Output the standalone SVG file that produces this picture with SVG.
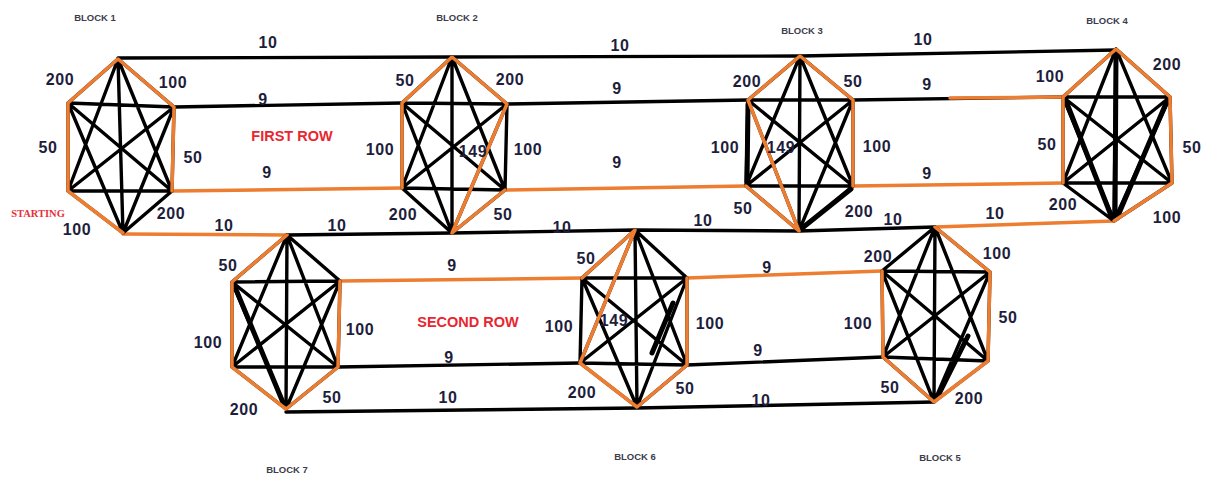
<svg xmlns="http://www.w3.org/2000/svg" width="1207" height="477" viewBox="0 0 1207 477">
  <style>
    .k{stroke:#000;stroke-width:3.4;fill:none;stroke-linecap:round;stroke-linejoin:round}
    .kt{stroke:#000;stroke-width:5;fill:none;stroke-linecap:round}
    .o{stroke:#ED7D31;stroke-width:3.5;fill:none;stroke-linecap:round;stroke-linejoin:round}
    .n{font-family:"Liberation Sans",Arial,sans-serif;font-weight:bold;font-size:16px;fill:#1e1e3c;text-anchor:middle;letter-spacing:0.6px}
    .t{font-family:"Liberation Sans",Arial,sans-serif;font-weight:bold;font-size:9.5px;fill:#3c3c4c;text-anchor:middle}
    .r{font-family:"Liberation Sans",Arial,sans-serif;font-weight:bold;font-size:14.5px;fill:#e8262f;text-anchor:middle}
    .s{font-family:"Liberation Serif","Times New Roman",serif;font-weight:bold;font-size:10.5px;fill:#e8303a;text-anchor:middle}
  </style>
  <rect width="1207" height="477" fill="#fff"/>

  <!-- links between blocks -->
  <g id="connectors">
    <path class="k" d="M118,58L452,57L800,56L1116,50"/>
    <path class="k" d="M174,107L402,103 M507,104L748,100 M853,100L1063,97"/>
    <path class="k" d="M287,235L452,233L635,230L799,231L935,227"/>
    <path class="k" d="M338,367L580,363 M687,365L883,357"/>
    <path class="k" d="M286,412L637,408L934,402"/>
    <path class="o" d="M172,191L402,188 M505,190L746,186 M853,186L1063,183"/>
    <path class="o" d="M950,98L1063,97"/>
    <path class="o" d="M123,234L287,235 M935,227L1114,221"/>
    <path class="o" d="M340,281L582,278 M687,278L882,271"/>
    <g class="n">
      <text x="268" y="48">10</text><text x="620" y="51">10</text><text x="923" y="45">10</text>
      <text x="263" y="105">9</text><text x="617" y="94">9</text><text x="927" y="90">9</text>
      <text x="267" y="178">9</text><text x="617" y="168">9</text><text x="927" y="179">9</text>
      <text x="224" y="231">10</text><text x="337" y="231">10</text><text x="562" y="233">10</text>
      <text x="703" y="226">10</text><text x="893" y="225">10</text><text x="995" y="219">10</text>
      <text x="452" y="271">9</text><text x="767" y="273">9</text>
      <text x="449" y="363">9</text><text x="758" y="356">9</text>
      <text x="448" y="403">10</text><text x="761" y="406">10</text>
    </g>
    <text class="r" x="292" y="141">FIRST ROW</text>
    <text class="r" x="468" y="327">SECOND ROW</text>
  </g>

  <!-- BLOCK 1 -->
  <g id="block1">
    <path class="k" d="M118,59L68,103 M118,59L174,107 M118,59L68,191 M118,59L172,191 M118,59L123,233 M68,103L174,107 M68,103L68,191 M68,103L172,191 M68,103L123,233 M174,107L68,191 M174,107L172,191 M174,107L123,233 M68,191L172,191 M68,191L123,233 M172,191L123,233"/>
    <path class="o" d="M68,191L68,103L118,59L174,107L172,191 M68,191L123,233"/>
    <g class="n">
      <text x="60" y="85">200</text><text x="173" y="88">100</text>
      <text x="48" y="153">50</text><text x="193" y="163">50</text>
      <text x="171" y="219">200</text><text x="77" y="235">100</text>
    </g>
    <text class="s" x="38" y="216.5">STARTING</text>
    <text class="t" x="95" y="20.5">BLOCK 1</text>
  </g>

  <!-- BLOCK 2 -->
  <g id="block2">
    <path class="k" d="M452,57L402,103 M452,57L507,104 M452,57L402,188 M452,57L505,190 M452,57L452,233 M402,103L507,104 M402,103L402,188 M402,103L505,190 M402,103L452,233 M507,104L402,188 M507,104L505,190 M507,104L452,233 M402,188L505,190 M402,188L452,233 M505,190L452,233"/>
    <path class="o" d="M402,188L402,103L452,57L507,104L452,233L505,190"/>
    <g class="n">
      <text x="405" y="86">50</text><text x="510" y="85">200</text>
      <text x="380" y="155">100</text><text x="473" y="157">149</text><text x="528" y="155">100</text>
      <text x="403" y="220">200</text><text x="503" y="220">50</text>
    </g>
    <text class="t" x="457" y="20.5">BLOCK 2</text>
  </g>

  <!-- BLOCK 3 -->
  <g id="block3">
    <path class="k" d="M800,56L748,100 M800,56L853,100 M800,56L746,186 M800,56L853,186 M800,56L799,231 M748,100L853,100 M748,100L746,186 M748,100L853,186 M748,100L799,231 M853,100L746,186 M853,100L853,186 M853,100L799,231 M746,186L853,186 M746,186L799,231 M853,186L799,231"/>
    <path class="kt" d="M748,104L747,182 M851,189L801,229"/>
    <path class="o" d="M853,186L853,100L800,56L748,100L799,231L746,186"/>
    <g class="n">
      <text x="747" y="87">200</text><text x="853" y="87">50</text>
      <text x="725" y="153">100</text><text x="781" y="153">149</text><text x="877" y="152">100</text>
      <text x="743" y="214">50</text><text x="859" y="217">200</text>
    </g>
    <text class="t" x="802" y="33.5">BLOCK 3</text>
  </g>

  <!-- BLOCK 4 -->
  <g id="block4">
    <path class="k" d="M1116,49L1063,97 M1116,49L1170,97 M1116,49L1063,183 M1116,49L1172,183 M1116,49L1114,221 M1063,97L1170,97 M1063,97L1063,183 M1063,97L1172,183 M1063,97L1114,221 M1170,97L1063,183 M1170,97L1172,183 M1170,97L1114,221 M1063,183L1172,183 M1063,183L1114,221 M1172,183L1114,221"/>
    <path class="kt" d="M1066,101L1112,218 M1167,101L1117,218 M1116,53L1115,217"/>
    <path class="o" d="M1063,183L1063,97L1116,49L1170,97L1172,183L1114,221"/>
    <g class="n">
      <text x="1050" y="82">100</text><text x="1167" y="70">200</text>
      <text x="1047" y="150">50</text><text x="1192" y="153">50</text>
      <text x="1063" y="210">200</text><text x="1167" y="223">100</text>
    </g>
    <text class="t" x="1107" y="23.5">BLOCK 4</text>
  </g>

  <!-- BLOCK 7 -->
  <g id="block7">
    <path class="k" d="M287,235L232,282 M287,235L340,281 M287,235L232,367 M287,235L338,367 M287,235L286,409 M232,282L340,281 M232,282L232,367 M232,282L338,367 M232,282L286,409 M340,281L232,367 M340,281L338,367 M340,281L286,409 M232,367L338,367 M232,367L286,409 M338,367L286,409"/>
    <path class="kt" d="M235,287L284,405"/>
    <path class="o" d="M287,235L232,282L232,367L286,409L338,367L340,281"/>
    <g class="n">
      <text x="228" y="271">50</text><text x="208" y="348">100</text><text x="360" y="335">100</text>
      <text x="244" y="415">200</text><text x="332" y="403">50</text>
    </g>
    <text class="t" x="287" y="472.5">BLOCK 7</text>
  </g>

  <!-- BLOCK 6 -->
  <g id="block6">
    <path class="k" d="M635,230L582,278 M635,230L687,278 M635,230L580,363 M635,230L687,365 M635,230L637,407 M582,278L687,278 M582,278L580,363 M582,278L687,365 M582,278L637,407 M687,278L580,363 M687,278L687,365 M687,278L637,407 M580,363L687,365 M580,363L637,407 M687,365L637,407"/>
    <path class="kt" d="M673,303L652,353"/>
    <path class="o" d="M582,278L635,230L580,363L637,407L687,365L687,278"/>
    <g class="n">
      <text x="586" y="264">50</text><text x="559" y="332">100</text><text x="614" y="326">149</text>
      <text x="710" y="329">100</text><text x="582" y="398">200</text><text x="685" y="394">50</text>
    </g>
    <text class="t" x="635" y="459.5">BLOCK 6</text>
  </g>

  <!-- BLOCK 5 -->
  <g id="block5">
    <path class="k" d="M935,227L882,271 M935,227L990,272 M935,227L883,357 M935,227L988,361 M935,227L934,402 M882,271L990,272 M882,271L883,357 M882,271L988,361 M882,271L934,402 M990,272L883,357 M990,272L988,361 M990,272L934,402 M883,357L988,361 M883,357L934,402 M988,361L934,402"/>
    <path class="kt" d="M968,336L937,398"/>
    <path class="o" d="M935,227L990,272L988,361L934,402L883,357L882,271"/>
    <g class="n">
      <text x="878" y="262">200</text><text x="997" y="259">100</text>
      <text x="858" y="329">100</text><text x="1008" y="323">50</text>
      <text x="890" y="393">50</text><text x="969" y="404">200</text>
    </g>
    <text class="t" x="940" y="460.5">BLOCK 5</text>
  </g>
</svg>
